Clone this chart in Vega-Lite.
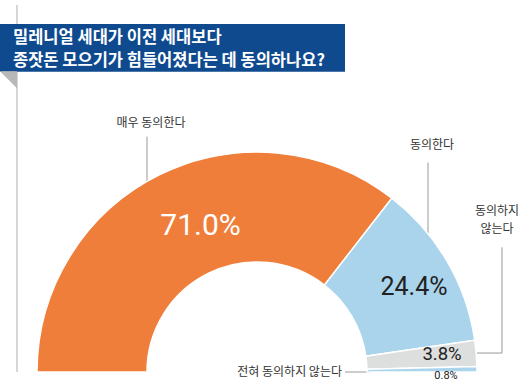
{
  "$schema": "https://vega.github.io/schema/vega-lite/v6.json",
  "width": 520,
  "height": 381,
  "autosize": {"type": "fit", "contains": "padding"},
  "padding": 0,
  "background": "white",
  "config": {"view": {"stroke": null}, "axis": {"disable": true}},
  "data": {
    "values": [
      {"category": "매우 동의한다", "value": 71.0, "label": "71.0%", "order": 1},
      {"category": "동의한다", "value": 24.4, "label": "24.4%", "order": 2},
      {"category": "동의하지 않는다", "value": 3.8, "label": "3.8%", "order": 3},
      {"category": "전혀 동의하지 않는다", "value": 0.8, "label": "0.8%", "order": 4}
    ]
  },
  "layer": [
    {
      "data": {"values": [{}]},
      "mark": {"type": "rule", "color": "#bdbdbd", "strokeWidth": 1.2},
      "encoding": {
        "x": {"datum": -109.09, "type": "quantitative", "scale": {"domain": [-116.82, 119.55], "nice": false, "zero": false}},
        "y": {"datum": 167.27, "type": "quantitative", "scale": {"domain": [-3.64, 169.55], "nice": false, "zero": false}},
        "y2": {"datum": 0}
      }
    },
    {
      "data": {"values": [{}]},
      "mark": {"type": "rect", "color": "#0f4a8f"},
      "encoding": {
        "x": {"datum": -116.82, "type": "quantitative"},
        "x2": {"datum": 40.0},
        "y": {"datum": 158.64, "type": "quantitative"},
        "y2": {"datum": 136.82}
      }
    },
    {
      "data": {"values": [{}]},
      "mark": {"type": "point", "shape": "M-1,-1L1,-1L1,1Z", "size": 289, "filled": true, "color": "#b8b8b8", "opacity": 1, "strokeWidth": 0},
      "encoding": {
        "x": {"datum": -112.95, "type": "quantitative"},
        "y": {"datum": 133.18, "type": "quantitative"}
      }
    },
    {
      "data": {"values": [{}]},
      "mark": {"type": "text", "text": "밀레니얼 세대가 이전 세대보다", "align": "left", "baseline": "middle", "fontSize": 16.5, "fontWeight": "bold", "font": "Noto Sans CJK KR", "color": "white"},
      "encoding": {
        "x": {"datum": -110.91, "type": "quantitative"},
        "y": {"datum": 152.27, "type": "quantitative"}
      }
    },
    {
      "data": {"values": [{}]},
      "mark": {"type": "text", "text": "종잣돈 모으기가 힘들어졌다는 데 동의하나요?", "align": "left", "baseline": "middle", "fontSize": 16.5, "fontWeight": "bold", "font": "Noto Sans CJK KR", "color": "white"},
      "encoding": {
        "x": {"datum": -110.91, "type": "quantitative"},
        "y": {"datum": 141.82, "type": "quantitative"}
      }
    },
    {
      "data": {"values": [{}]},
      "mark": {"type": "rule", "color": "#9a9a9a", "strokeWidth": 1},
      "encoding": {"x": {"datum": -50.0, "type": "quantitative"}, "y": {"datum": 107.27, "type": "quantitative"}, "y2": {"datum": 71.8}}
    },
    {
      "data": {"values": [{}]},
      "mark": {"type": "rule", "color": "#9a9a9a", "strokeWidth": 1},
      "encoding": {"x": {"datum": 77.73, "type": "quantitative"}, "y": {"datum": 95.45, "type": "quantitative"}, "y2": {"datum": 58.18}}
    },
    {
      "data": {"values": [{}]},
      "mark": {"type": "rule", "color": "#9a9a9a", "strokeWidth": 1},
      "encoding": {"x": {"datum": 111.36, "type": "quantitative"}, "y": {"datum": 56.82, "type": "quantitative"}, "y2": {"datum": 8.64}}
    },
    {
      "data": {"values": [{}]},
      "mark": {"type": "rule", "color": "#9a9a9a", "strokeWidth": 1},
      "encoding": {"x": {"datum": 111.36, "type": "quantitative"}, "x2": {"datum": 96.82}, "y": {"datum": 8.64, "type": "quantitative"}}
    },
    {
      "data": {"values": [{}]},
      "mark": {"type": "rule", "color": "#9a9a9a", "strokeWidth": 1},
      "encoding": {"x": {"datum": 40.0, "type": "quantitative"}, "x2": {"datum": 52.27}, "y": {"datum": 0, "type": "quantitative"}}
    },
    {
      "transform": [{"stack": "value", "groupby": [], "sort": [{"field": "order", "order": "ascending"}], "as": ["t0", "t1"]}],
      "mark": {"type": "arc", "innerRadius": 110, "outerRadius": 220, "stroke": "white", "strokeWidth": 1.5},
      "encoding": {
        "x": {"datum": 0, "type": "quantitative"},
        "y": {"datum": 0, "type": "quantitative"},
        "theta": {"field": "t0", "type": "quantitative", "scale": {"domain": [0, 100], "range": [-1.5708, 1.5708]}},
        "theta2": {"field": "t1"},
        "color": {"field": "category", "type": "nominal", "legend": null,
          "scale": {"domain": ["매우 동의한다", "동의한다", "동의하지 않는다", "전혀 동의하지 않는다"], "range": ["#f07e3b", "#a9d4ec", "#dddede", "#a9d4ec"]}}
      }
    },
    {
      "transform": [{"filter": {"field": "order", "equal": 1}}],
      "mark": {"type": "text", "align": "center", "baseline": "middle", "fontSize": 30, "fontWeight": 400, "font": "Roboto", "color": "white"},
      "encoding": {"x": {"datum": -25.68, "type": "quantitative"}, "y": {"datum": 66.59, "type": "quantitative"}, "text": {"field": "label"}}
    },
    {
      "transform": [{"filter": {"field": "order", "equal": 2}}],
      "mark": {"type": "text", "align": "center", "baseline": "middle", "fontSize": 25, "fontWeight": 400, "font": "Roboto", "color": "#222222"},
      "encoding": {"x": {"datum": 71.36, "type": "quantitative"}, "y": {"datum": 38.86, "type": "quantitative"}, "text": {"field": "label"}}
    },
    {
      "transform": [{"filter": {"field": "order", "equal": 3}}],
      "mark": {"type": "text", "align": "center", "baseline": "middle", "fontSize": 18.5, "fontWeight": 400, "font": "Roboto", "color": "#222222"},
      "encoding": {"x": {"datum": 84.09, "type": "quantitative"}, "y": {"datum": 8.18, "type": "quantitative"}, "text": {"field": "label"}}
    },
    {
      "transform": [{"filter": {"field": "order", "equal": 4}}],
      "mark": {"type": "text", "align": "center", "baseline": "middle", "fontSize": 11, "font": "Roboto", "color": "#222222"},
      "encoding": {"x": {"datum": 85.91, "type": "quantitative"}, "y": {"datum": -1.59, "type": "quantitative"}, "text": {"field": "label"}}
    },
    {
      "transform": [{"filter": {"field": "order", "equal": 1}}],
      "mark": {"type": "text", "align": "center", "baseline": "middle", "fontSize": 12, "font": "Noto Sans CJK KR", "color": "#333333"},
      "encoding": {"x": {"datum": -48.18, "type": "quantitative"}, "y": {"datum": 113.64, "type": "quantitative"}, "text": {"field": "category"}}
    },
    {
      "transform": [{"filter": {"field": "order", "equal": 2}}],
      "mark": {"type": "text", "align": "center", "baseline": "middle", "fontSize": 12, "font": "Noto Sans CJK KR", "color": "#333333"},
      "encoding": {"x": {"datum": 79.55, "type": "quantitative"}, "y": {"datum": 103.64, "type": "quantitative"}, "text": {"field": "category"}}
    },
    {
      "transform": [{"filter": {"field": "order", "equal": 3}}],
      "mark": {"type": "text", "align": "center", "baseline": "middle", "lineBreak": " ", "lineHeight": 18, "fontSize": 12, "font": "Noto Sans CJK KR", "color": "#333333"},
      "encoding": {"x": {"datum": 109.09, "type": "quantitative"}, "y": {"datum": 73.18, "type": "quantitative"}, "text": {"field": "category"}}
    },
    {
      "transform": [{"filter": {"field": "order", "equal": 4}}],
      "mark": {"type": "text", "align": "right", "baseline": "middle", "fontSize": 12, "font": "Noto Sans CJK KR", "color": "#333333"},
      "encoding": {"x": {"datum": 38.64, "type": "quantitative"}, "y": {"datum": 0, "type": "quantitative"}, "text": {"field": "category"}}
    }
  ]
}
